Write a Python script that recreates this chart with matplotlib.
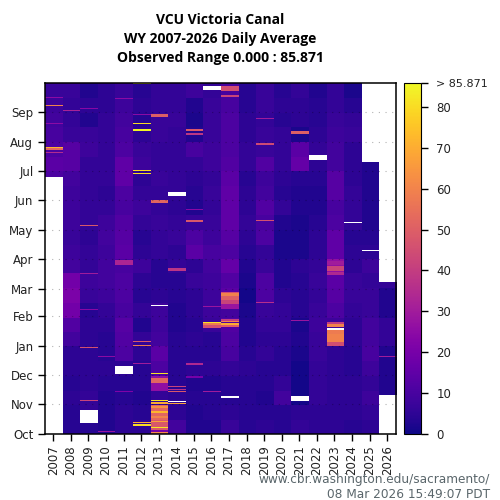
import numpy as np
import matplotlib
matplotlib.use("Agg")
import matplotlib.pyplot as plt

years = list(range(2007, 2027))
months = ["Oct", "Nov", "Dec", "Jan", "Feb", "Mar", "Apr", "May", "Jun", "Jul", "Aug", "Sep"]
month_days = [0, 31, 61, 92, 123, 151, 182, 212, 243, 273, 304, 335]
cbar_ticks = [0, 10, 20, 30, 40, 50, 60, 70, 80]
vmax = 85.871

# half month averages, Oct 1 first
wy2007 = [7, 7, 7, 7, 7, 7, 7, 7, 7, 7, 7, 7, 7, 7, 7, 7, 7, 11, 14, 11, 10, 9, 8, 7]
wy2008 = [4, 4, 5, 4, 5, 5, 9, 12, 19, 21, 19, 9, 8, 7, 8, 8, 8, 9, 13, 13, 7, 6, 6, 7]
wy2009 = [4, 6, 6, 5, 5, 5, 5, 5, 4, 7, 8, 6, 6, 5, 6, 6, 6, 6, 6, 8, 7, 3, 5, 3]
wy2010 = [3, 3, 3, 4, 5, 4, 4, 5, 6, 8, 9, 9, 8, 9, 8, 6, 5, 6, 6, 6, 6, 6, 5, 5]
wy2011 = [5, 5, 4, 4, 5, 11, 12, 13, 10, 11, 11, 10, 14, 13, 12, 10, 11, 15, 15, 11, 10, 9, 8, 7]
wy2012 = [5, 4, 3, 4, 4, 5, 6, 3, 6, 4, 5, 8, 5, 4, 6, 8, 6, 5, 8, 7, 5, 4, 5, 4]
wy2013 = [48, 52, 6, 26, 11, 14, 9, 8, 8, 5, 4, 4, 6, 6, 7, 6, 6, 7, 6, 6, 7, 7, 6, 6]
wy2014 = [9, 5, 5, 4, 4, 4, 4, 3, 3, 4, 4, 6, 5, 7, 6, 5, 6, 6, 6, 6, 6, 7, 6, 6]
wy2015 = [3, 3, 4, 3, 5, 4, 5, 4, 5, 5, 7, 5, 14, 11, 7, 3, 4, 5, 6, 10, 3, 2, 3, 8]
wy2016 = [3, 4, 4, 3, 5, 4, 4, 7, 8, 8, 8, 9, 10, 8, 7, 6, 7, 6, 8, 8, 7, 7, 7, 6]
wy2017 = [7, 5, 4, 4, 6, 10, 11, 12, 9, 14, 12, 16, 11, 13, 15, 15, 15, 14, 12, 11, 11, 11, 10, 10]
wy2018 = [4, 4, 4, 4, 5, 4, 3, 3, 2, 1, 2, 3, 4, 5, 6, 5, 5, 4, 6, 6, 5, 5, 4, 4]
wy2019 = [5, 4, 3, 4, 4, 6, 5, 6, 7, 11, 11, 7, 6, 11, 10, 12, 9, 8, 12, 7, 7, 6, 7, 7]
wy2020 = [4, 4, 9, 6, 4, 4, 5, 6, 6, 5, 3, 3, 2, 2, 3, 6, 4, 5, 6, 6, 6, 4, 5, 4]
wy2021 = [6, 5, 1, 1, 1, 2, 3, 2, 4, 4, 4, 5, 2, 2, 2, 3, 3, 4, 16, 14, 2, 5, 5, 6]
wy2022 = [5, 5, 6, 6, 6, 7, 7, 8, 7, 6, 7, 6, 5, 5, 4, 3, 3, 4, 5, 6, 5, 4, 4, 3]
wy2023 = [5, 5, 5, 5, 5, 5, 6, 8, 11, 13, 14, 26, 15, 15, 11, 10, 13, 13, 9, 9, 8, 7, 6, 6]
wy2024 = [4, 5, 5, 5, 4, 4, 5, 5, 6, 7, 7, 5, 5, 4, 6, 6, 6, 5, 5, 5, 7, 6, 4, 2]
wy2025 = [5, 6, 8, 6, 8, 10, 9, 9, 7, 7, 6, 8, 5, 4, 3, 3, 3, 3, 3, 3, 3, 3, 3, 3]
wy2026 = [3, 3, 3, 3, 3, 3, 6, 6, 3, 3, 6, 5, 3, 3, 3, 3, 3, 3, 3, 3, 3, 3, 3, 3]

# year, first day of water year, number of days, value
spikes = [
    (2007, 349, 1, 25), (2007, 341, 1, 60), (2007, 322, 1, 25), (2007, 297, 1, 72), (2007, 295, 2, 52), (2007, 292, 1, 35),
    (2008, 336, 1, 32),
    (2009, 338, 1, 24), (2009, 216, 1, 48), (2009, 166, 1, 30), (2009, 129, 1, 24), (2009, 89, 1, 46), (2009, 34, 1, 42),
    (2010, 80, 1, 25), (2010, 2, 1, 28),
    (2011, 348, 1, 25), (2011, 176, 5, 33), (2011, 44, 1, 22),
    (2012, 364, 1, 85), (2012, 332, 1, 25), (2012, 322, 1, 80), (2012, 315, 2, 85), (2012, 274, 1, 80), (2012, 270, 1, 80),
    (2012, 96, 1, 48), (2012, 92, 1, 58), (2012, 73, 1, 30), (2012, 11, 1, 70), (2012, 8, 2, 80),
    (2013, 330, 3, 50), (2013, 240, 3, 52), (2013, 62, 1, 82), (2013, 53, 5, 52),
    (2013, 34, 1, 82), (2013, 31, 2, 70), (2013, 27, 2, 64), (2013, 22, 2, 72), (2013, 17, 2, 60), (2013, 12, 2, 68),
    (2013, 6, 1, 82), (2013, 2, 2, 20), (2013, 1, 1, 62),
    (2014, 170, 3, 38), (2014, 49, 1, 42), (2014, 46, 1, 36), (2014, 44, 1, 48), (2014, 31, 1, 68),
    (2015, 315, 2, 48), (2015, 311, 2, 38), (2015, 233, 1, 24), (2015, 220, 3, 48), (2015, 72, 2, 34), (2015, 58, 2, 20),
    (2016, 132, 1, 28), (2016, 115, 1, 82), (2016, 113, 2, 58), (2016, 110, 3, 46), (2016, 44, 1, 30),
    (2017, 357, 5, 45), (2017, 350, 3, 42), (2017, 146, 2, 45), (2017, 143, 4, 60), (2017, 139, 4, 50), (2017, 135, 4, 42),
    (2017, 130, 5, 28), (2017, 118, 2, 40), (2017, 116, 2, 62), (2017, 113, 2, 70), (2017, 111, 2, 50),
    (2019, 328, 1, 30), (2019, 301, 2, 44), (2019, 221, 2, 46), (2019, 136, 1, 36),
    (2021, 312, 3, 50), (2021, 118, 1, 28),
    (2023, 176, 4, 30), (2023, 170, 5, 42), (2023, 165, 3, 34), (2023, 114, 2, 40), (2023, 111, 3, 60),
    (2023, 104, 4, 58), (2023, 96, 8, 60), (2023, 92, 4, 45),
    (2026, 80, 1, 30),
]

# year, first day, number of days with no data
gaps = [
    (2007, 0, 267),
    (2009, 11, 14),
    (2011, 62, 9),
    (2013, 133, 1),
    (2014, 247, 5),
    (2014, 33, 1),
    (2016, 358, 4),
    (2017, 37, 2),
    (2021, 34, 5),
    (2022, 285, 5),
    (2023, 108, 2),
    (2024, 219, 1),
    (2025, 190, 1),
    (2025, 283, 82),
    (2026, 158, 207),
    (2026, 0, 41),
]

series = [wy2007, wy2008, wy2009, wy2010, wy2011, wy2012, wy2013, wy2014, wy2015, wy2016,
          wy2017, wy2018, wy2019, wy2020, wy2021, wy2022, wy2023, wy2024, wy2025, wy2026]

grid = np.zeros((365, len(years)))
for c, vals in enumerate(series):
    for b, v in enumerate(vals):
        grid[int(b * 365 / 24):int((b + 1) * 365 / 24) + 1, c] = v
for y, d, n, v in spikes:
    grid[d:d + n, y - 2007] = v
for y, d, n in gaps:
    grid[d:d + n, y - 2007] = np.nan

cmap = plt.get_cmap("plasma").copy()
cmap.set_bad("white")

fig = plt.figure(figsize=(5, 5), dpi=100)
ax = fig.add_axes([0.089, 0.132, 0.703, 0.702])
mesh = ax.imshow(grid, origin="lower", extent=(2006.5, 2026.5, 0, 365), aspect="auto",
                 interpolation="nearest", interpolation_stage="rgba", cmap=cmap, vmin=0, vmax=vmax)
ax.set_xticks(years)
ax.set_xticklabels(years, rotation=90, fontsize=8.5)
ax.set_yticks(month_days)
ax.set_yticklabels(months, fontsize=8.5)
ax.tick_params(length=5, width=1, pad=3, labelcolor="#222222")
ax.set_axisbelow(False)
ax.grid(axis="y", color="black", alpha=0.3, linewidth=0.8, linestyle=(0, (1, 5)))
ax.grid(axis="x", visible=False)
for s in ax.spines.values():
    s.set_linewidth(1.1)

cax = fig.add_axes([0.808, 0.132, 0.034, 0.702])
cb = fig.colorbar(mesh, cax=cax)
cb.set_ticks(cbar_ticks + [vmax])
cb.set_ticklabels([str(t) for t in cbar_ticks] + ["> 85.871"], fontsize=8.5)
cb.ax.get_yticklabels()[-1].set_fontsize(8)
cb.ax.tick_params(length=5, width=1, pad=6, labelcolor="#222222")

title_font = "Open Sans"
fig.text(0.44, 0.96, "VCU Victoria Canal", ha="center", va="center", fontsize=10, fontweight="bold", family=title_font)
fig.text(0.44, 0.922, "WY 2007-2026 Daily Average", ha="center", va="center", fontsize=10, fontweight="bold", family=title_font)
fig.text(0.44, 0.884, "Observed Range 0.000 : 85.871", ha="center", va="center", fontsize=10, fontweight="bold", family=title_font)

fig.text(0.98, 0.04, "www.cbr.washington.edu/sacramento/", ha="right", va="center", fontsize=8.75, color="#5a666b")
fig.text(0.98, 0.011, "08 Mar 2026 15:49:07 PDT", ha="right", va="center", fontsize=8.75, color="#5a666b")

fig.savefig("out.png", dpi=100)
